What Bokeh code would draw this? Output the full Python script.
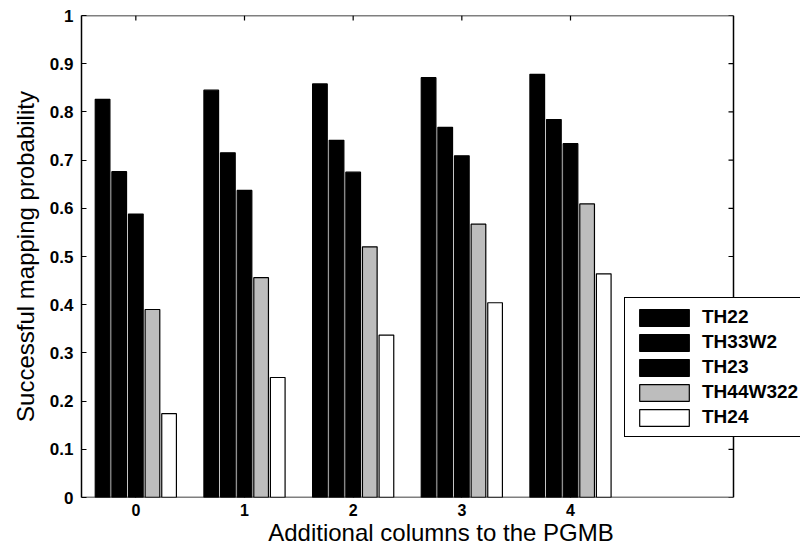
from bokeh.plotting import figure
from bokeh.models import ColumnDataSource, FixedTicker, Legend, LegendItem, Range1d
from bokeh.transform import dodge
from bokeh.embed import file_html
from bokeh.resources import INLINE

categories = [0, 1, 2, 3, 4]
series_names = ["TH22", "TH33W2", "TH23", "TH44W322", "TH24"]
th22 = [0.826, 0.845, 0.858, 0.871, 0.878]
th33w2 = [0.676, 0.715, 0.741, 0.768, 0.784]
th23 = [0.588, 0.637, 0.675, 0.709, 0.734]
th44w322 = [0.390, 0.456, 0.520, 0.567, 0.609]
th24 = [0.174, 0.249, 0.337, 0.404, 0.464]
y_ticks = [0, 0.1, 0.2, 0.3, 0.4, 0.5, 0.6, 0.7, 0.8, 0.9, 1]

# axes box limits (data) and the extra room to the right for the legend
X_MIN, X_MAX = -0.5, 5.5
Y_MIN, Y_MAX = 0.0, 1.0
BOX_PX = 652            # pixel width of the axes box
FRAME_PX = 719          # frame width (extends to page edge so legend is not clipped)
px_per_x = BOX_PX / (X_MAX - X_MIN)
X_VIEW_END = X_MIN + FRAME_PX / px_per_x
TICK_X = 5 / px_per_x
TICK_Y = 5 / 482 * (Y_MAX - Y_MIN)

src = ColumnDataSource(dict(x=categories, TH22=th22, TH33W2=th33w2, TH23=th23,
                            TH44W322=th44w322, TH24=th24))

FONT = "Liberation Sans"
p = figure(width=800, height=552, output_backend="svg", toolbar_location=None,
           x_range=Range1d(X_MIN, X_VIEW_END), y_range=Range1d(Y_MIN, Y_MAX),
           min_border_left=81, min_border_right=0, min_border_top=15, min_border_bottom=55)
p.background_fill_color = "white"
p.border_fill_color = "white"
p.outline_line_color = None
p.xgrid.visible = False
p.ygrid.visible = False

fills = ["black", "black", "black", "#bdbdbd", "white"]
offsets = [-0.306, -0.153, 0.0, 0.153, 0.306]
renderers = []
for name, off, fc in zip(series_names, offsets, fills):
    r = p.vbar(x=dodge("x", off, range=p.x_range), top=name, width=0.135, bottom=0,
               source=src, fill_color=fc, line_color="black", line_width=1.2)
    renderers.append(r)

# axes box: bottom, top, right border lines and inside ticks on top/right
p.segment(x0=[X_MIN, X_MIN, X_MAX], y0=[Y_MIN, Y_MAX, Y_MIN],
          x1=[X_MAX, X_MAX, X_MAX], y1=[Y_MIN, Y_MAX, Y_MAX],
          line_color="black", line_width=1.5)
p.segment(x0=categories, y0=[Y_MAX] * len(categories),
          x1=categories, y1=[Y_MAX - TICK_Y] * len(categories),
          line_color="black", line_width=1.2)
p.segment(x0=[X_MAX] * len(y_ticks), y0=y_ticks,
          x1=[X_MAX - TICK_X] * len(y_ticks), y1=y_ticks,
          line_color="black", line_width=1.2)

for ax in [p.xaxis[0], p.yaxis[0]]:
    ax.major_tick_in = 5
    ax.major_tick_out = 0
    ax.major_tick_line_width = 1.2
    ax.minor_tick_line_color = None
    ax.axis_line_width = 1.5
    ax.major_label_text_font = FONT
    ax.major_label_text_font_style = "bold"
    ax.major_label_text_color = "black"
    ax.axis_label_text_font = FONT
    ax.axis_label_text_font_style = "normal"
    ax.axis_label_text_color = "black"

p.xaxis[0].axis_line_color = None
p.xaxis[0].ticker = FixedTicker(ticks=categories)
p.yaxis[0].ticker = FixedTicker(ticks=y_ticks)
p.xaxis[0].major_label_text_font_size = "16px"
p.yaxis[0].major_label_text_font_size = "17px"
p.xaxis[0].axis_label_text_font_size = "24px"
p.yaxis[0].axis_label_text_font_size = "24px"
p.xaxis[0].axis_label = "Additional columns to the PGMB"
p.yaxis[0].axis_label = "Successful mapping probability"
p.xaxis[0].major_label_standoff = 6
p.yaxis[0].major_label_standoff = 8
p.yaxis[0].axis_label_standoff = 8
p.xaxis[0].axis_label_standoff = 0
p.yaxis[0].major_label_overrides = {0: "0", 1: "1"}

legend = Legend(items=[LegendItem(label=n, renderers=[r]) for n, r in zip(series_names, renderers)],
                location=(543, 60), glyph_width=62, glyph_height=21, spacing=3,
                label_standoff=7, padding=8, margin=0, label_height=21,
                label_text_font=FONT, label_text_font_size="19px", label_text_font_style="bold",
                label_text_color="black",
                border_line_color="black", border_line_width=1.5, border_line_alpha=1,
                background_fill_alpha=1)
p.add_layout(legend, "center")

open("out.html", "w").write(file_html(p, INLINE))
